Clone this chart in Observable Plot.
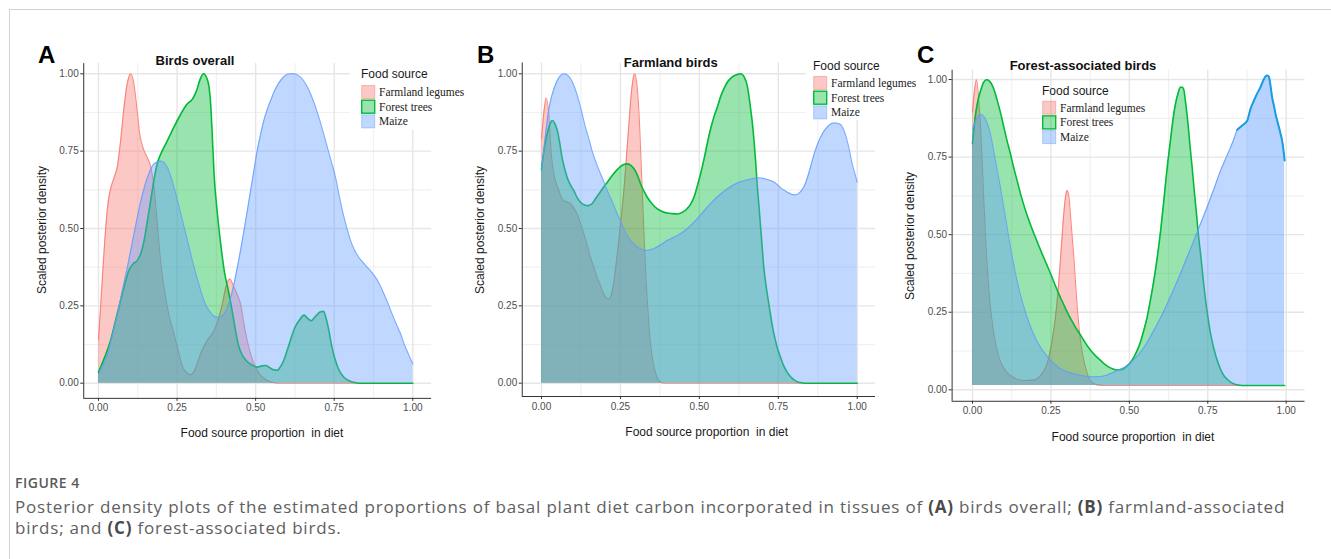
<!DOCTYPE html>
<html><head><meta charset="utf-8">
<script src="https://cdn.jsdelivr.net/npm/d3@7"></script>
<script src="https://cdn.jsdelivr.net/npm/@observablehq/plot@0.6"></script>
<style>
html,body{margin:0;padding:0;background:#fff;}
#page{position:relative;width:1331px;height:559px;overflow:hidden;font-family:"Liberation Sans",Arial,sans-serif;}
.panel{position:absolute;}
#frameTop{position:absolute;left:9px;top:9px;right:0;height:1px;background:#d2d2d2;}
#frameLeft{position:absolute;left:9px;top:9px;width:1px;bottom:0;background:#d2d2d2;}
#figLabel{position:absolute;left:15px;top:474px;font-family:"Open Sans",sans-serif;font-weight:600;font-size:14px;letter-spacing:0.5px;line-height:17px;color:#5a5a5a;white-space:nowrap;}
#caption{position:absolute;left:15px;top:496px;font-family:"Open Sans",sans-serif;font-size:17px;letter-spacing:0.8px;line-height:21px;color:#606060;white-space:nowrap;}
#caption b{color:#4a4a4a;}
</style>
</head><body>
<div id="page">
  <div id="frameTop"></div><div id="frameLeft"></div>
  <div id="figLabel"></div>
  <div id="caption"></div>
</div>
<script>
// ---------- data ----------
const sources = ["Farmland legumes", "Forest trees", "Maize"];
const lineColors = ["#F8766D", "#00BA38", "#619CFF"];
const xTicks = [0, 0.25, 0.5, 0.75, 1];
const yTicks = [0, 0.25, 0.5, 0.75, 1];
const minorTicks = [0.125, 0.375, 0.625, 0.875];
const panelTitles = ["Birds overall", "Farmland birds", "Forest-associated birds"];
const panelLetters = ["A", "B", "C"];
const legendTitle = "Food source";
const xTitle = "Food source proportion  in diet";
const yTitle = "Scaled posterior density";
const figureLabel = "FIGURE 4";
const captionLine1 = ["Posterior density plots of the estimated proportions of basal plant diet carbon incorporated in tissues of ", "(A)", " birds overall; ", "(B)", " farmland-associated"];
const captionLine2 = ["birds; and ", "(C)", " forest-associated birds."];
const panelFloors = [0, 0, 0.014];
const maizeHighlightFrom = 0.844;

// Panel A: birds overall
const overallFarmland = [[0,0.14],[0.007,0.25],[0.013,0.35],[0.02,0.46],[0.029,0.57],[0.039,0.63],[0.05,0.665],[0.06,0.70],[0.07,0.78],[0.08,0.88],[0.09,0.96],[0.103,1.0],[0.113,0.965],[0.122,0.89],[0.132,0.80],[0.142,0.76],[0.155,0.73],[0.166,0.70],[0.176,0.64],[0.185,0.54],[0.198,0.39],[0.21,0.30],[0.222,0.23],[0.24,0.16],[0.255,0.10],[0.267,0.055],[0.28,0.035],[0.293,0.027],[0.305,0.04],[0.315,0.065],[0.325,0.095],[0.346,0.138],[0.368,0.17],[0.383,0.213],[0.395,0.26],[0.405,0.31],[0.418,0.337],[0.431,0.31],[0.442,0.285],[0.452,0.256],[0.463,0.19],[0.473,0.138],[0.484,0.095],[0.495,0.062],[0.516,0.025],[0.537,0.009],[0.555,0.002],[0.57,0],[1,0]];
const overallForest = [[0,0.035],[0.02,0.085],[0.039,0.14],[0.055,0.205],[0.071,0.27],[0.085,0.325],[0.097,0.365],[0.11,0.385],[0.124,0.397],[0.135,0.42],[0.145,0.46],[0.155,0.52],[0.166,0.59],[0.177,0.66],[0.187,0.71],[0.2,0.745],[0.215,0.775],[0.24,0.828],[0.262,0.87],[0.28,0.90],[0.3,0.92],[0.312,0.945],[0.322,0.978],[0.334,1.0],[0.345,0.985],[0.352,0.955],[0.357,0.90],[0.362,0.80],[0.368,0.67],[0.378,0.55],[0.39,0.44],[0.4,0.364],[0.415,0.29],[0.426,0.23],[0.436,0.17],[0.446,0.12],[0.458,0.09],[0.473,0.07],[0.49,0.058],[0.505,0.052],[0.52,0.056],[0.532,0.057],[0.545,0.05],[0.558,0.043],[0.569,0.042],[0.58,0.055],[0.59,0.075],[0.6,0.105],[0.611,0.14],[0.625,0.18],[0.64,0.205],[0.654,0.22],[0.665,0.21],[0.677,0.202],[0.69,0.215],[0.705,0.23],[0.716,0.232],[0.724,0.21],[0.733,0.17],[0.742,0.12],[0.752,0.08],[0.764,0.045],[0.78,0.02],[0.797,0.008],[0.815,0.002],[0.83,0],[1,0]];
const overallMaize = [[0,0.03],[0.015,0.06],[0.029,0.095],[0.045,0.16],[0.06,0.224],[0.076,0.30],[0.092,0.375],[0.113,0.483],[0.135,0.59],[0.156,0.666],[0.177,0.709],[0.198,0.718],[0.219,0.698],[0.24,0.634],[0.262,0.547],[0.283,0.461],[0.304,0.375],[0.325,0.30],[0.34,0.255],[0.352,0.235],[0.365,0.218],[0.378,0.213],[0.39,0.216],[0.4,0.224],[0.41,0.245],[0.421,0.278],[0.432,0.325],[0.442,0.375],[0.453,0.435],[0.463,0.494],[0.474,0.56],[0.484,0.623],[0.495,0.69],[0.505,0.752],[0.516,0.805],[0.526,0.849],[0.537,0.885],[0.548,0.914],[0.558,0.94],[0.569,0.962],[0.582,0.982],[0.595,0.995],[0.61,1.0],[0.622,1.0],[0.635,0.995],[0.648,0.984],[0.662,0.962],[0.675,0.935],[0.688,0.9],[0.701,0.86],[0.714,0.815],[0.728,0.763],[0.741,0.715],[0.754,0.666],[0.767,0.60],[0.781,0.537],[0.792,0.495],[0.802,0.461],[0.815,0.43],[0.828,0.407],[0.842,0.39],[0.855,0.375],[0.868,0.36],[0.881,0.343],[0.895,0.318],[0.908,0.289],[0.921,0.258],[0.934,0.224],[0.947,0.192],[0.961,0.16],[0.975,0.12],[0.988,0.09],[1,0.062]];

// Panel B: farmland birds
const farmFarmland = [[0,0.79],[0.007,0.87],[0.015,0.922],[0.023,0.87],[0.031,0.74],[0.039,0.677],[0.047,0.645],[0.055,0.623],[0.063,0.60],[0.071,0.59],[0.082,0.585],[0.092,0.58],[0.103,0.565],[0.113,0.547],[0.124,0.515],[0.134,0.483],[0.145,0.445],[0.155,0.407],[0.166,0.375],[0.176,0.343],[0.187,0.315],[0.197,0.289],[0.207,0.275],[0.215,0.272],[0.222,0.29],[0.229,0.325],[0.237,0.39],[0.245,0.461],[0.253,0.54],[0.261,0.623],[0.269,0.73],[0.277,0.838],[0.283,0.92],[0.289,0.975],[0.295,1.0],[0.301,0.975],[0.306,0.92],[0.31,0.85],[0.314,0.752],[0.318,0.65],[0.322,0.547],[0.326,0.45],[0.33,0.36],[0.335,0.27],[0.34,0.192],[0.345,0.13],[0.351,0.084],[0.357,0.05],[0.364,0.025],[0.37,0.012],[0.377,0.003],[0.39,0],[1,0]];
const farmForest = [[0,0.69],[0.009,0.76],[0.018,0.806],[0.026,0.835],[0.034,0.849],[0.042,0.84],[0.05,0.817],[0.058,0.775],[0.065,0.73],[0.073,0.695],[0.081,0.666],[0.092,0.64],[0.102,0.623],[0.113,0.60],[0.124,0.585],[0.136,0.576],[0.148,0.574],[0.16,0.58],[0.171,0.596],[0.184,0.615],[0.197,0.634],[0.211,0.653],[0.224,0.671],[0.237,0.687],[0.25,0.70],[0.261,0.707],[0.271,0.709],[0.282,0.705],[0.293,0.693],[0.304,0.672],[0.314,0.644],[0.325,0.62],[0.335,0.601],[0.35,0.58],[0.366,0.564],[0.382,0.555],[0.398,0.55],[0.414,0.548],[0.43,0.547],[0.446,0.552],[0.461,0.564],[0.472,0.578],[0.483,0.601],[0.493,0.635],[0.504,0.677],[0.515,0.725],[0.525,0.774],[0.536,0.823],[0.546,0.86],[0.557,0.892],[0.567,0.925],[0.578,0.952],[0.588,0.972],[0.599,0.985],[0.609,0.993],[0.62,0.998],[0.632,1.0],[0.642,0.99],[0.652,0.96],[0.662,0.89],[0.668,0.84],[0.673,0.785],[0.678,0.72],[0.683,0.644],[0.689,0.57],[0.694,0.504],[0.699,0.44],[0.704,0.375],[0.712,0.31],[0.72,0.256],[0.728,0.205],[0.736,0.16],[0.746,0.118],[0.757,0.084],[0.767,0.057],[0.778,0.036],[0.789,0.021],[0.8,0.011],[0.81,0.005],[0.82,0.002],[0.835,0],[1,0]];
const farmMaize = [[0,0.69],[0.007,0.75],[0.013,0.806],[0.021,0.87],[0.029,0.914],[0.039,0.95],[0.05,0.978],[0.061,0.995],[0.073,1.0],[0.085,0.993],[0.097,0.975],[0.107,0.95],[0.118,0.914],[0.129,0.87],[0.139,0.828],[0.15,0.79],[0.16,0.752],[0.173,0.713],[0.187,0.677],[0.2,0.645],[0.213,0.612],[0.227,0.58],[0.24,0.547],[0.253,0.518],[0.266,0.488],[0.279,0.467],[0.293,0.45],[0.304,0.44],[0.314,0.434],[0.325,0.43],[0.335,0.429],[0.35,0.433],[0.366,0.44],[0.382,0.45],[0.398,0.461],[0.414,0.469],[0.43,0.477],[0.446,0.487],[0.461,0.499],[0.477,0.514],[0.493,0.531],[0.509,0.55],[0.525,0.569],[0.541,0.586],[0.556,0.601],[0.572,0.615],[0.588,0.628],[0.604,0.638],[0.62,0.647],[0.636,0.653],[0.652,0.657],[0.668,0.661],[0.683,0.663],[0.697,0.663],[0.71,0.66],[0.723,0.656],[0.736,0.65],[0.749,0.64],[0.762,0.628],[0.776,0.619],[0.789,0.612],[0.8,0.609],[0.81,0.61],[0.82,0.618],[0.831,0.634],[0.841,0.66],[0.852,0.698],[0.865,0.745],[0.879,0.784],[0.892,0.81],[0.905,0.828],[0.915,0.837],[0.926,0.841],[0.937,0.84],[0.947,0.836],[0.957,0.82],[0.968,0.784],[0.976,0.75],[0.984,0.709],[0.992,0.68],[1,0.65]];

// Panel C: forest-associated birds
const forestFarmland = [[0,0.895],[0.006,0.96],[0.013,0.999],[0.02,0.932],[0.028,0.803],[0.036,0.61],[0.045,0.427],[0.055,0.288],[0.068,0.18],[0.084,0.105],[0.105,0.062],[0.132,0.039],[0.164,0.03],[0.196,0.032],[0.217,0.046],[0.238,0.084],[0.254,0.159],[0.268,0.266],[0.281,0.427],[0.291,0.567],[0.297,0.625],[0.302,0.642],[0.307,0.625],[0.312,0.567],[0.323,0.427],[0.334,0.266],[0.344,0.159],[0.36,0.073],[0.376,0.03],[0.397,0.016],[0.42,0.014],[0.995,0.014]];
const forestForest = [[0,0.793],[0.01,0.889],[0.018,0.935],[0.026,0.964],[0.035,0.99],[0.045,0.999],[0.054,0.995],[0.063,0.981],[0.071,0.96],[0.079,0.932],[0.09,0.89],[0.1,0.846],[0.11,0.803],[0.121,0.76],[0.131,0.717],[0.142,0.675],[0.155,0.625],[0.169,0.578],[0.182,0.54],[0.196,0.503],[0.209,0.47],[0.222,0.438],[0.236,0.405],[0.249,0.374],[0.262,0.341],[0.275,0.309],[0.289,0.279],[0.302,0.25],[0.315,0.225],[0.328,0.202],[0.342,0.18],[0.355,0.159],[0.368,0.139],[0.382,0.121],[0.395,0.107],[0.408,0.095],[0.421,0.083],[0.435,0.073],[0.448,0.067],[0.461,0.064],[0.472,0.065],[0.482,0.068],[0.493,0.077],[0.504,0.089],[0.515,0.106],[0.525,0.127],[0.536,0.156],[0.546,0.191],[0.557,0.235],[0.567,0.288],[0.578,0.352],[0.589,0.427],[0.6,0.515],[0.61,0.61],[0.62,0.71],[0.631,0.803],[0.639,0.87],[0.647,0.921],[0.655,0.955],[0.663,0.975],[0.669,0.975],[0.674,0.965],[0.68,0.92],[0.687,0.857],[0.693,0.79],[0.7,0.718],[0.707,0.64],[0.714,0.567],[0.72,0.50],[0.727,0.438],[0.735,0.36],[0.743,0.288],[0.751,0.23],[0.759,0.18],[0.77,0.13],[0.78,0.095],[0.79,0.068],[0.801,0.046],[0.812,0.034],[0.823,0.025],[0.834,0.019],[0.844,0.016],[0.86,0.014],[0.995,0.014]];
const forestMaize = [[0,0.841],[0.013,0.873],[0.026,0.887],[0.041,0.873],[0.057,0.825],[0.073,0.739],[0.089,0.653],[0.105,0.556],[0.121,0.46],[0.132,0.40],[0.142,0.352],[0.153,0.305],[0.164,0.266],[0.177,0.225],[0.19,0.191],[0.203,0.162],[0.217,0.137],[0.233,0.114],[0.249,0.095],[0.265,0.08],[0.281,0.068],[0.302,0.058],[0.323,0.052],[0.344,0.047],[0.366,0.043],[0.387,0.042],[0.408,0.043],[0.43,0.048],[0.451,0.057],[0.472,0.066],[0.493,0.078],[0.514,0.097],[0.536,0.121],[0.557,0.153],[0.578,0.191],[0.6,0.233],[0.621,0.277],[0.642,0.325],[0.663,0.374],[0.684,0.427],[0.706,0.481],[0.727,0.535],[0.748,0.589],[0.77,0.648],[0.791,0.707],[0.807,0.745],[0.823,0.782],[0.834,0.81],[0.844,0.838],[0.86,0.852],[0.876,0.868],[0.886,0.905],[0.894,0.925],[0.902,0.943],[0.91,0.96],[0.918,0.975],[0.926,0.995],[0.934,1.01],[0.94,1.013],[0.945,1.008],[0.95,0.98],[0.955,0.943],[0.961,0.915],[0.966,0.889],[0.972,0.865],[0.977,0.846],[0.982,0.825],[0.987,0.803],[0.991,0.775],[0.995,0.739]];

const panelSeries = [
  [overallFarmland, overallForest, overallMaize],
  [farmFarmland, farmForest, farmMaize],
  [forestFarmland, forestForest, forestMaize]
];

// ---------- layout (pixels) ----------
const panels = [
  {left:40, top:40, width:400, height:380, x0:98, x1:412.3, y0:382.7, y1:73.3, xlo:-0.047, xhi:1.06, ylo:-0.049, yhi:1.033,
   title:[195,60], letter:[38,63], xt:[262,433], yt:[42,230], legend:{x:361, titleY:74, rowY:92, bg:[350,62,95,68]}},
  {left:480, top:40, width:400, height:380, x0:541, x1:856.7, y0:382.7, y1:73.3, xlo:-0.061, xhi:1.058, ylo:-0.043, yhi:1.035,
   title:[670.7,62], letter:[477,63], xt:[706.7,432], yt:[480,230], legend:{x:813, titleY:66, rowY:83, bg:[806,56,76,64]}},
  {left:910, top:40, width:410, height:385, x0:972, x1:1285.7, y0:389.3, y1:79, xlo:-0.065, xhi:1.06, ylo:-0.037, yhi:1.03,
   title:[1083,65], letter:[917,63], xt:[1133,436.7], yt:[910,236], legend:{x:1042, titleY:90.7, rowY:107.7, bg:null}}
];

const page = document.getElementById("page");
const fontSans = "'Liberation Sans', Arial, sans-serif";
const fontSerif = "'Liberation Serif', 'Times New Roman', serif";

panels.forEach((cfg, pi) => {
  const sx = cfg.x1 - cfg.x0, sy = cfg.y0 - cfg.y1;
  const marginLeft = cfg.x0 + cfg.xlo * sx - cfg.left;
  const marginRight = cfg.left + cfg.width - (cfg.x0 + cfg.xhi * sx);
  const marginTop = (cfg.y0 - cfg.yhi * sy) - cfg.top;
  const marginBottom = cfg.top + cfg.height - (cfg.y0 - cfg.ylo * sy);
  const floor = panelFloors[pi];
  const marks = [
    Plot.ruleX(minorTicks, {stroke:"#f1f1f1", strokeWidth:1.2}),
    Plot.ruleY(minorTicks, {stroke:"#f1f1f1", strokeWidth:1.2}),
    Plot.ruleX(xTicks, {stroke:"#e6e6e6", strokeWidth:1.4}),
    Plot.ruleY(yTicks, {stroke:"#e6e6e6", strokeWidth:1.4})
  ];
  panelSeries[pi].forEach((pts, si) => {
    const rows = pts.map(([x, y]) => ({x, y, source: sources[si]}));
    marks.push(Plot.areaY(rows, {x:"x", y1: () => floor, y2:"y", fill: lineColors[si], fillOpacity:0.4, curve:"monotone-x"}));
    marks.push(Plot.lineY(rows, {x:"x", y:"y", stroke: lineColors[si],
      strokeWidth: si === 1 ? 1.6 : 1.1, strokeOpacity: si === 1 ? 1 : 0.85, curve:"monotone-x"}));
    if (pi === 2 && si === 2) {
      const hi = rows.filter(d => d.x >= maizeHighlightFrom);
      marks.push(Plot.areaY(hi.filter(d => d.x >= 0.865), {x:"x", y1: () => floor, y2:"y", fill:"#6cc0f5", fillOpacity:0.12, curve:"monotone-x"}));
      marks.push(Plot.lineY(hi, {x:"x", y:"y", stroke:"#1b9ce3", strokeWidth:2, curve:"monotone-x"}));
    }
  });
  marks.push(
    Plot.ruleX([cfg.xlo], {stroke:"#333", strokeWidth:1}),
    Plot.ruleY([cfg.ylo], {stroke:"#333", strokeWidth:1}),
    Plot.axisX(xTicks, {tickFormat: d3.format(".2f"), tickSize:3, tickPadding:3, fontSize:10, color:"#4d4d4d", stroke:"#333", label:null}),
    Plot.axisY(yTicks, {tickFormat: d3.format(".2f"), tickSize:3, tickPadding:2, fontSize:10, color:"#4d4d4d", stroke:"#333", label:null})
  );
  const svg = Plot.plot({
    width: cfg.width, height: cfg.height,
    marginLeft, marginRight, marginTop, marginBottom,
    x: {domain:[cfg.xlo, cfg.xhi]},
    y: {domain:[cfg.ylo, cfg.yhi]},
    style: {background:"transparent", fontFamily: fontSans, overflow:"visible"},
    marks
  });
  const div = document.createElement("div");
  div.className = "panel";
  div.style.left = cfg.left + "px";
  div.style.top = cfg.top + "px";
  div.appendChild(svg);
  page.appendChild(div);
});

// ---------- overlay texts & legends ----------
const ov = d3.select(page).append("svg")
  .attr("width", 1331).attr("height", 559)
  .style("position","absolute").style("left","0px").style("top","0px");

panels.forEach((cfg, pi) => {
  const g = ov.append("g");
  g.append("text").attr("x", cfg.letter[0]).attr("y", cfg.letter[1])
    .attr("font-family", fontSans).attr("font-weight", "bold").attr("font-size", 24).attr("fill", "#000")
    .text(panelLetters[pi]);
  g.append("text").attr("x", cfg.title[0]).attr("y", cfg.title[1]).attr("text-anchor","middle")
    .attr("dominant-baseline","central").attr("font-family", fontSans).attr("font-weight","bold")
    .attr("font-size", 13).attr("fill","#111").text(panelTitles[pi]);
  g.append("text").attr("x", cfg.xt[0]).attr("y", cfg.xt[1]).attr("text-anchor","middle")
    .attr("dominant-baseline","central").attr("font-family", fontSans).attr("font-size", 12)
    .attr("fill","#1a1a1a").style("white-space","pre").text(xTitle);
  g.append("text").attr("transform", `translate(${cfg.yt[0]},${cfg.yt[1]}) rotate(-90)`)
    .attr("text-anchor","middle").attr("dominant-baseline","central").attr("font-family", fontSans)
    .attr("font-size", 12).attr("fill","#1a1a1a").text(yTitle);
  const L = cfg.legend;
  if (L.bg) g.append("rect").attr("x", L.bg[0]).attr("y", L.bg[1]).attr("width", L.bg[2]).attr("height", L.bg[3]).attr("fill", "#fff");
  g.append("text").attr("x", L.x).attr("y", L.titleY).attr("dominant-baseline","central")
    .attr("font-family", fontSans).attr("font-size", 12).attr("fill","#1a1a1a").text(legendTitle);
  sources.forEach((s, si) => {
    const cy = L.rowY + si * 14.7;
    g.append("rect").attr("x", L.x + 0.7).attr("y", cy - 6.5).attr("width", 13).attr("height", 13)
      .attr("fill", lineColors[si]).attr("fill-opacity", 0.4)
      .attr("stroke", lineColors[si]).attr("stroke-opacity", si === 1 ? 1 : 0.45).attr("stroke-width", si === 1 ? 1.4 : 1);
    g.append("text").attr("x", L.x + 18).attr("y", cy).attr("dominant-baseline","central")
      .attr("font-family", fontSerif).attr("font-size", 11.5).attr("fill","#222").text(s);
  });
});

// ---------- caption ----------
document.getElementById("figLabel").textContent = figureLabel;
const cap = document.getElementById("caption");
function addLine(parts) {
  const line = document.createElement("div");
  parts.forEach((p, i) => {
    const el = document.createElement(i % 2 === 1 ? "b" : "span");
    el.textContent = p;
    line.appendChild(el);
  });
  cap.appendChild(line);
}
addLine(captionLine1);
addLine(captionLine2);
</script>
</body></html>
